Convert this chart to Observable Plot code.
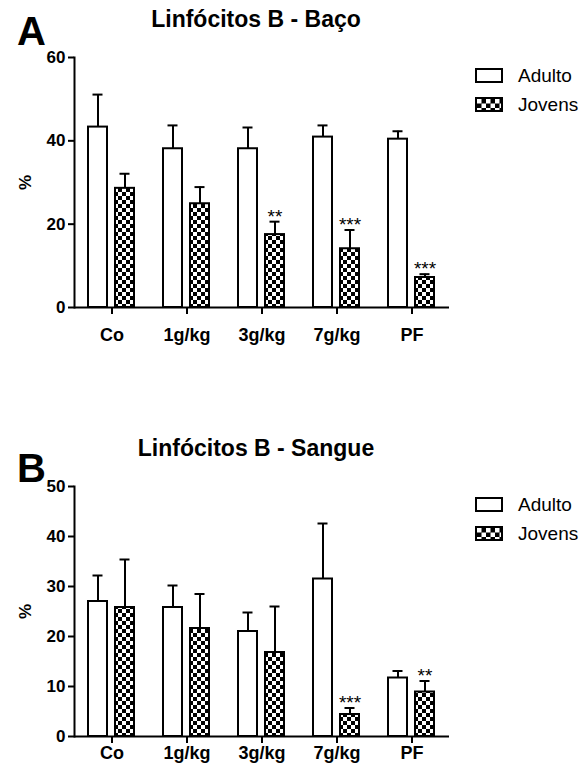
<!DOCTYPE html>
<html><head><meta charset="utf-8">
<script src="https://cdn.jsdelivr.net/npm/d3@7"></script>
<script src="https://cdn.jsdelivr.net/npm/@observablehq/plot@0.6"></script>
<style>
html,body{margin:0;padding:0;background:#fff;overflow:hidden;width:582px;height:764px;position:relative;}
.panel{position:absolute;left:0;width:582px;height:429px;}
.panel > svg{position:absolute;left:0;top:0;}
</style></head><body>
<div id="A" class="panel" style="top:0"></div>
<div id="B" class="panel" style="top:429px"></div>
<script>
const categories = ["Co", "1g/kg", "3g/kg", "7g/kg", "PF"];
const groups = ["Adulto", "Jovens"];

const bacoAdulto = [43.3, 38.1, 38.1, 40.9, 40.4];
const bacoAdultoErr = [7.8, 5.6, 5.1, 2.8, 1.9];
const bacoJovens = [28.6, 24.9, 17.5, 14.1, 7.2];
const bacoJovensErr = [3.5, 4.0, 3.1, 4.5, 0.8];
const bacoSig = ["", "", "**", "***", "***"];
const bacoTicks = [0, 20, 40, 60];

const sangueAdulto = [27.0, 25.8, 21.0, 31.5, 11.7];
const sangueAdultoErr = [5.2, 4.4, 3.8, 11.1, 1.4];
const sangueJovens = [25.8, 21.6, 16.8, 4.4, 8.9];
const sangueJovensErr = [9.6, 6.9, 9.2, 1.3, 2.2];
const sangueSig = ["", "", "", "***", "**"];
const sangueTicks = [0, 10, 20, 30, 40, 50];

const FONT = "'Liberation Sans', Arial, Helvetica, sans-serif";

function checker(id, bg, fg, s) {
  return `<pattern id="${id}" patternUnits="userSpaceOnUse" width="${2*s}" height="${2*s}">
    <rect width="${2*s}" height="${2*s}" fill="${bg}"/>
    <rect width="${s}" height="${s}" fill="${fg}"/>
    <rect x="${s}" y="${s}" width="${s}" height="${s}" fill="${fg}"/></pattern>`;
}

function drawPanel(elId, letter, letterY, title, adult, adultErr, jov, jovErr, sig, ticks, xPad) {
  const rows = [];
  categories.forEach((c, i) => {
    rows.push({cat: c, group: "Adulto", value: adult[i], err: adultErr[i], sig: ""});
    rows.push({cat: c, group: "Jovens", value: jov[i], err: jovErr[i], sig: sig[i]});
  });
  const pid = "chk" + elId;
  const chart = Plot.plot({
    width: 582, height: 429,
    marginLeft: 72, marginRight: 132, marginTop: 57, marginBottom: 122,
    style: {fontFamily: FONT, fontWeight: "bold", fontSize: "17px", color: "#000", background: "transparent", overflow: "visible"},
    fx: {domain: categories, padding: 0, label: null, axis: null},
    x: {domain: groups, paddingInner: 0.286, paddingOuter: 0.49, axis: null},
    y: {domain: [0, ticks[ticks.length - 1]], axis: null},
    marks: [
      Plot.barY(rows.filter(d => d.group === "Adulto"), {fx: "cat", x: "group", y: "value", fill: "white", stroke: "black", strokeWidth: 2}),
      Plot.barY(rows.filter(d => d.group === "Jovens"), {fx: "cat", x: "group", y: "value", fill: `url(#${pid})`, stroke: "black", strokeWidth: 2}),
      Plot.ruleX(rows, {fx: "cat", x: "group", y1: "value", y2: d => d.value + d.err, stroke: "black", strokeWidth: 2}),
      Plot.tickY(rows, {fx: "cat", x: "group", y: d => d.value + d.err, stroke: "black", strokeWidth: 2, insetLeft: 4.5, insetRight: 4.5}),
      Plot.text(rows.filter(d => d.sig), {fx: "cat", x: "group", y: d => d.value + d.err, text: "sig", fontSize: 19, fontWeight: "normal", lineAnchor: "bottom", dy: 1}),
      Plot.ruleY([0], {stroke: "black", strokeWidth: 2}),
      Plot.frame({anchor: "left", facetAnchor: "left", stroke: "black", strokeWidth: 2}),
      Plot.axisY({ticks: ticks, tickSize: 6, tickPadding: 3, strokeWidth: 2, fontSize: 17, label: "%", labelAnchor: "center", labelOffset: 56, labelArrow: "none"}),
      Plot.axisFx({anchor: "bottom", tickSize: 7, tickPadding: xPad, strokeWidth: 2, fontSize: 18, label: null})
    ]
  });
  const defs = document.createElementNS("http://www.w3.org/2000/svg", "defs");
  defs.innerHTML = checker(pid, "white", "black", 4);
  chart.insertBefore(defs, chart.firstChild);
  const el = document.getElementById(elId);
  el.appendChild(chart);
  const lg = "lg" + elId;
  el.insertAdjacentHTML("beforeend", `
  <svg width="582" height="429" style="position:absolute;left:0;top:0;pointer-events:none" font-family="${FONT}">
    <defs>${checker(lg, "black", "white", 4.5)}</defs>
    <text x="17" y="${letterY}" font-size="40" font-weight="bold">${letter}</text>
    <text x="256" y="27" text-anchor="middle" font-size="23" font-weight="bold">${title}</text>
    <rect x="476" y="69" width="26" height="13" fill="white" stroke="black" stroke-width="2"/>
    <text x="518" y="82" font-size="19">Adulto</text>
    <rect x="476" y="98" width="26" height="13" fill="url(#${lg})" stroke="black" stroke-width="2"/>
    <text x="518" y="111" font-size="19">Jovens</text>
  </svg>`);
}

drawPanel("A", "A", 45, "Linfócitos B - Baço", bacoAdulto, bacoAdultoErr, bacoJovens, bacoJovensErr, bacoSig, bacoTicks, 14);
drawPanel("B", "B", 53, "Linfócitos B - Sangue", sangueAdulto, sangueAdultoErr, sangueJovens, sangueJovensErr, sangueSig, sangueTicks, 3);
</script>
</body></html>
